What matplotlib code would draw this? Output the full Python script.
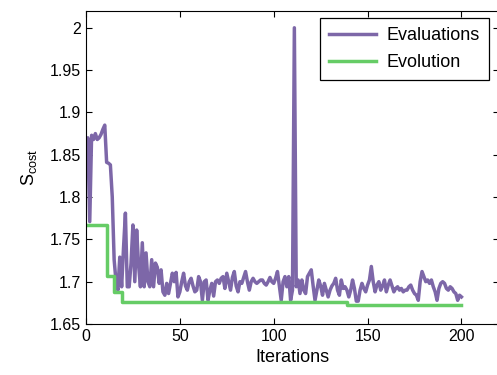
import numpy as np
import matplotlib
matplotlib.use("Agg")
import matplotlib.pyplot as plt

plt.rcParams['font.family'] = ['Liberation Sans', 'DejaVu Sans']
plt.rcParams['mathtext.fontset'] = 'custom'
plt.rcParams['mathtext.rm'] = 'Liberation Sans'

# cost of each evaluation, iteration 0..200
evaluations = [
    1.853, 1.870, 1.771, 1.873, 1.868, 1.875, 1.868, 1.870, 1.874, 1.880,
    1.885, 1.841, 1.840, 1.838, 1.800, 1.726, 1.700, 1.690, 1.729, 1.694,
    1.740, 1.781, 1.694, 1.694, 1.722, 1.767, 1.700, 1.761, 1.720, 1.694,
    1.746, 1.694, 1.734, 1.700, 1.694, 1.726, 1.694, 1.722, 1.717, 1.698,
    1.714, 1.688, 1.684, 1.698, 1.686, 1.698, 1.710, 1.700, 1.711, 1.682,
    1.688, 1.700, 1.710, 1.695, 1.690, 1.700, 1.704, 1.695, 1.688, 1.690,
    1.706, 1.700, 1.678, 1.700, 1.702, 1.678, 1.690, 1.698, 1.683, 1.700,
    1.702, 1.698, 1.704, 1.706, 1.692, 1.710, 1.700, 1.690, 1.705, 1.712,
    1.695, 1.688, 1.700, 1.698, 1.705, 1.712, 1.700, 1.690, 1.700, 1.704,
    1.700, 1.698, 1.700, 1.702, 1.702, 1.698, 1.696, 1.700, 1.705, 1.700,
    1.698, 1.704, 1.712, 1.695, 1.678, 1.700, 1.706, 1.694, 1.706, 1.678,
    1.690, 2.000, 1.694, 1.702, 1.686, 1.702, 1.690, 1.686, 1.706, 1.710,
    1.714, 1.695, 1.678, 1.690, 1.702, 1.695, 1.684, 1.698, 1.690, 1.682,
    1.690, 1.695, 1.698, 1.704, 1.690, 1.684, 1.702, 1.692, 1.694, 1.690,
    1.682, 1.690, 1.702, 1.692, 1.677, 1.677, 1.690, 1.698, 1.692, 1.688,
    1.696, 1.702, 1.718, 1.700, 1.688, 1.696, 1.700, 1.690, 1.695, 1.702,
    1.688, 1.696, 1.702, 1.695, 1.688, 1.692, 1.694, 1.690, 1.692, 1.688,
    1.690, 1.690, 1.694, 1.696, 1.690, 1.686, 1.684, 1.678, 1.700, 1.712,
    1.706, 1.700, 1.702, 1.698, 1.702, 1.694, 1.688, 1.678, 1.692, 1.698,
    1.700, 1.698, 1.692, 1.690, 1.694, 1.692, 1.688, 1.686, 1.678, 1.684,
    1.682,
]
iterations = np.arange(len(evaluations))

# best cost so far (step changes)
evo_iters = [0, 11, 15, 19, 139, 200]
evo_vals = [1.767, 1.707, 1.688, 1.676, 1.673, 1.673]

fig = plt.figure(figsize=(4.97, 3.75), dpi=100)
ax = fig.add_axes([0.173, 0.136, 0.831, 0.835])

ax.plot(iterations, evaluations, color='#7D67A8', lw=2.5, label='Evaluations')
ax.plot(evo_iters, evo_vals, color='#66CC66', lw=2.5, drawstyle='steps-post',
        label='Evolution')

ax.set_xlim(0, 220)
ax.set_ylim(1.65, 2.02)
ax.set_xticks([0, 50, 100, 150, 200])
ax.set_yticks([1.65, 1.7, 1.75, 1.8, 1.85, 1.9, 1.95, 2.0])
ax.set_yticklabels(['1.65', '1.7', '1.75', '1.8', '1.85', '1.9', '1.95', '2'])
ax.tick_params(direction='in', top=True, right=True, labelsize=11.5, length=4)
ax.set_xlabel('Iterations', fontsize=13, labelpad=4)
ax.set_ylabel(r'S$_{\mathrm{cost}}$', fontsize=13, labelpad=8)

leg = ax.legend(loc='upper right', bbox_to_anchor=(0.984, 0.952),
                bbox_transform=fig.transFigure, borderaxespad=0,
                fancybox=False, framealpha=1, edgecolor='black',
                fontsize=13, handlelength=2.6, handletextpad=0.6,
                labelspacing=0.55, borderpad=0.5)
leg.get_frame().set_linewidth(0.9)

fig.savefig('out.png', dpi=100)
